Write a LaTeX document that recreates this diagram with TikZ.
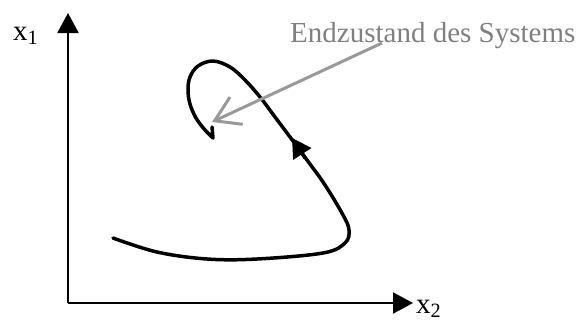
\documentclass[tikz,border=0pt]{standalone}
\usepackage{fontspec}
\setmainfont{Liberation Serif}
\usetikzlibrary{arrows.meta}
\definecolor{txtgray}{HTML}{808080}
\definecolor{lingray}{HTML}{999999}
\tikzset{
  axis/.style={line width=2pt,-{Triangle[length=20pt,width=21pt]}},
  traj/.style={line width=3.5pt,line cap=round,line join=round},
  lbl/.style={font=\fontsize{29}{34}\selectfont,inner sep=0pt,anchor=base west},
  pointer/.style={lingray,line width=3pt,-{Straight Barb[length=24pt,width=30pt]}}
}
\begin{document}
\begin{tikzpicture}[x=1pt,y=-1pt]
\useasboundingbox (0,0) rectangle (578,324);
\coordinate (O) at (68,303);
\coordinate (ytip) at (68,13);
\coordinate (xtip) at (413,303);
\draw[axis] (O) -- (ytip);
\draw[axis] (O) -- (xtip);
\node[lbl] (x1) at (13,40) {x\textsubscript{1}};
\node[lbl] (x2) at (416,313) {x\textsubscript{2}};
\node[lbl,text=txtgray] (end) at (290,42) {Endzustand des Systems};
% trajectory
\draw[traj] plot[smooth,tension=0.6] coordinates {
 (113,238) (157,252) (207,259) (257,259) (323,253) (345,243) (349,230)
 (343,215) (325,185) (307,160) (290,137) (275,117) (260,97) (245,80)
 (230,67) (213,61) (198,66) (190,77) (188,90) (190,104) (196,118)
 (205,130) (213,138)} -- (212,127);
% direction arrow on trajectory
\coordinate (ta) at (305,158);
\coordinate (tb) at (292,138);
\draw[line width=3.5pt,-{Triangle[length=19pt,width=21pt]}] (ta) -- (tb);
% pointer
\coordinate (pstart) at (382,43);
\coordinate (pend) at (212,122);
\draw[pointer] (pstart) -- (pend);
\end{tikzpicture}
\end{document}
